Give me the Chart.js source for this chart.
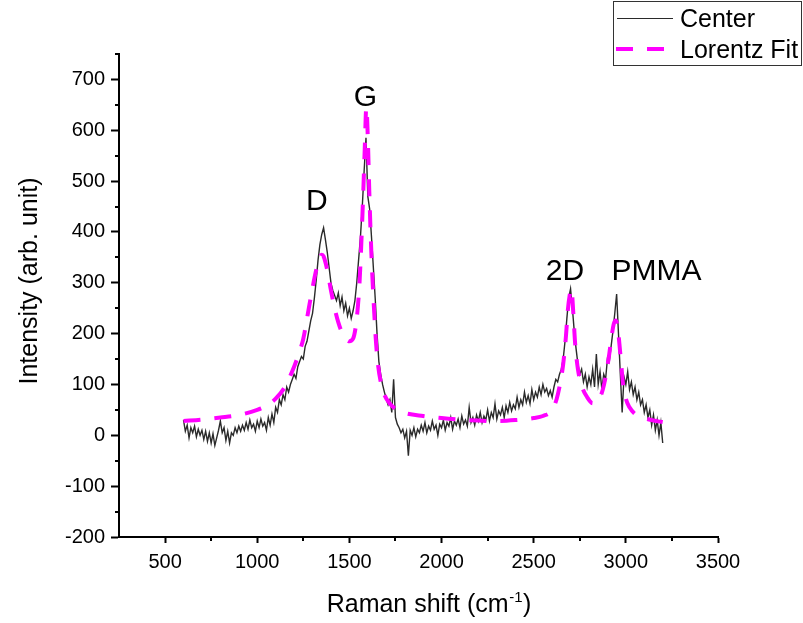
<!DOCTYPE html>
<html>
<head>
<meta charset="utf-8">
<script src="https://cdn.jsdelivr.net/npm/chart.js@4/dist/chart.umd.min.js"></script>
<style>
html,body{margin:0;padding:0;background:#ffffff;}
canvas{display:block;}
</style>
</head>
<body>
<canvas id="c" width="803" height="623"></canvas>
<script>
// ---------- DATA ----------
const ramanShift = [
600,610,620,630,640,650,660,670,680,690,
700,710,720,730,740,750,760,770,780,790,
800,810,820,830,840,850,860,870,880,890,
900,910,920,930,940,950,960,970,980,990,
1000,1010,1020,1030,1040,1050,1060,1070,1080,1090,
1100,1110,1120,1130,1140,1150,1160,1170,1180,1190,
1200,1210,1220,1230,1240,1250,1260,1270,1280,1290,
1300,1310,1320,1330,1340,1350,1360,1370,1380,1390,
1400,1410,1420,1430,1440,1450,1460,1470,1480,1490,
1500,1510,1520,1530,1540,1550,1560,1570,1580,1590,
1600,1610,1620,1630,1640,1650,1660,1670,1680,1690,
1700,1710,1720,1730,1740,1750,1760,1770,1780,1790,
1800,1810,1820,1830,1840,1850,1860,1870,1880,1890,
1900,1910,1920,1930,1940,1950,1960,1970,1980,1990,
2000,2010,2020,2030,2040,2050,2060,2070,2080,2090,
2100,2110,2120,2130,2140,2150,2160,2170,2180,2190,
2200,2210,2220,2230,2240,2250,2260,2270,2280,2290,
2300,2310,2320,2330,2340,2350,2360,2370,2380,2390,
2400,2410,2420,2430,2440,2450,2460,2470,2480,2490,
2500,2510,2520,2530,2540,2550,2560,2570,2580,2590,
2600,2610,2620,2630,2640,2650,2660,2670,2680,2690,
2700,2710,2720,2730,2740,2750,2760,2770,2780,2790,
2800,2810,2820,2830,2840,2850,2860,2870,2880,2890,
2900,2910,2920,2930,2940,2950,2960,2970,2980,2990,
3000,3010,3020,3030,3040,3050,3060,3070,3080,3090,
3100,3110,3120,3130,3140,3150,3160,3170,3180,3190,
3200];

const centerIntensity = [
30,8,20,-5,15,5,18,-3,12,0,
10,-8,8,-12,5,-15,3,-20,-5,10,
28,5,15,-10,8,-15,5,0,15,5,
18,8,20,10,25,12,30,15,22,8,
28,15,32,18,25,10,35,20,42,25,
55,45,70,60,80,70,95,85,100,110,
120,112,135,145,155,150,175,185,205,225,
240,270,305,345,375,395,408,385,360,330,
300,285,275,265,280,255,272,245,260,235,
250,230,245,265,300,345,390,450,520,585,
470,445,390,330,270,200,145,120,100,85,
72,60,70,45,110,35,22,15,5,12,
-5,8,-40,10,0,15,-3,12,5,20,
8,25,5,18,10,28,12,20,0,22,
15,30,10,25,18,35,12,28,20,32,
15,38,22,30,18,55,25,35,20,40,
28,45,25,38,30,50,28,45,35,62,
32,48,40,55,35,58,45,65,48,60,
52,75,55,70,60,85,65,78,62,90,
70,85,75,95,80,100,85,92,78,88,
75,95,110,105,120,130,150,185,230,270,
288,250,205,170,140,120,130,105,120,95,
115,100,130,95,160,100,125,90,120,110,
150,145,175,205,240,278,200,120,45,115,
100,125,90,105,80,95,70,85,60,70,
45,60,35,50,20,40,10,30,0,25,
-15];

const fitShift = [
600,700,800,900,1000,1050,1100,1150,1200,1225,
1250,1275,1300,1320,1340,1350,1360,1380,1400,1420,
1440,1460,1480,1500,1520,1540,1555,1565,1575,1583,
1592,1600,1608,1616,1625,1635,1645,1655,1670,1690,
1720,1760,1800,1900,2000,2100,2200,2300,2400,2500,
2550,2600,2625,2645,2660,2675,2685,2695,2705,2715,
2725,2740,2760,2790,2820,2850,2875,2895,2910,2925,
2935,2945,2955,2965,2975,2985,3000,3020,3050,3100,
3150,3200];

const fitIntensity = [
28,31,35,40,50,58,72,95,135,160,
190,240,290,325,350,355,352,325,285,250,
222,202,190,185,190,230,300,380,475,560,
645,585,480,390,310,240,180,140,105,80,
62,50,44,38,34,31,29,28,30,34,
38,50,72,105,140,195,245,275,288,240,
180,130,98,75,63,68,90,125,160,200,
220,226,215,180,140,100,72,55,42,34,
29,26];

const seriesNames = ['Center', 'Lorentz Fit'];
const xTickValues = [500,1000,1500,2000,2500,3000,3500];
const yTickValues = [-200,-100,0,100,200,300,400,500,600,700];
const xMinorTicks = [750,1250,1750,2250,2750,3250];
const yMinorTicks = [-150,-50,50,150,250,350,450,550,650,750];
const peakNames = ['D','G','2D','PMMA'];
const peakLabelShift = [1324,1587,2670,3166];
const peakLabelIntensity = [443,648,306,306];
const xTitle = ['Raman shift (cm', '-1', ')'];
const yTitle = 'Intensity (arb. unit)';

// ---------- STYLE ----------
const FONT = '"Liberation Sans", Arial, Helvetica, sans-serif';
const CENTER_COLOR = '#2a2a2a';
const FIT_COLOR = '#ff00ff';
const FIT_DASH = [17, 14];

const extras = {
  id: 'extras',
  afterDraw(chart) {
    const ctx = chart.ctx;
    const xs = chart.scales.x, ys = chart.scales.y;
    const area = chart.chartArea;
    ctx.save();
    // minor ticks
    ctx.strokeStyle = '#000';
    ctx.lineWidth = 2;
    ctx.beginPath();
    xMinorTicks.forEach(v => {
      const px = Math.round(xs.getPixelForValue(v));
      ctx.moveTo(px, area.bottom);
      ctx.lineTo(px, area.bottom + 4);
    });
    yMinorTicks.forEach(v => {
      const py = Math.round(ys.getPixelForValue(v));
      ctx.moveTo(area.left, py);
      ctx.lineTo(area.left - 4, py);
    });
    ctx.stroke();

    // peak labels
    ctx.fillStyle = '#000';
    ctx.font = '30px ' + FONT;
    ctx.textAlign = 'center';
    ctx.textBaseline = 'alphabetic';
    peakNames.forEach((n, i) => {
      ctx.fillText(n, xs.getPixelForValue(peakLabelShift[i]), ys.getPixelForValue(peakLabelIntensity[i]));
    });

    // x title with superscript
    ctx.textAlign = 'left';
    ctx.font = '25px ' + FONT;
    const w1 = ctx.measureText(xTitle[0]).width;
    const w3 = ctx.measureText(xTitle[2]).width;
    ctx.font = '15px ' + FONT;
    const w2 = ctx.measureText(xTitle[1]).width;
    const total = w1 + w2 + w3 + 1;
    let sx = 429 - total / 2;
    const by = 612;
    ctx.font = '25px ' + FONT;
    ctx.fillText(xTitle[0], sx, by);
    ctx.font = '15px ' + FONT;
    ctx.fillText(xTitle[1], sx + w1 + 0.5, by - 10);
    ctx.font = '25px ' + FONT;
    ctx.fillText(xTitle[2], sx + w1 + w2 + 1, by);

    // y title
    ctx.save();
    ctx.translate(37, 281);
    ctx.rotate(-Math.PI / 2);
    ctx.textAlign = 'center';
    ctx.font = '25px ' + FONT;
    ctx.fillText(yTitle, 0, 0);
    ctx.restore();

    // legend
    ctx.fillStyle = '#ffffff';
    ctx.fillRect(613.5, 1.5, 188, 64);
    ctx.strokeStyle = '#333';
    ctx.lineWidth = 1;
    ctx.strokeRect(613.5, 1.5, 188, 64);
    ctx.strokeStyle = CENTER_COLOR;
    ctx.lineWidth = 1;
    ctx.beginPath();
    ctx.moveTo(617, 18.5); ctx.lineTo(673, 18.5);
    ctx.stroke();
    ctx.strokeStyle = FIT_COLOR;
    ctx.lineWidth = 4;
    ctx.setLineDash(FIT_DASH);
    ctx.lineDashOffset = 0;
    ctx.beginPath();
    ctx.moveTo(616, 49); ctx.lineTo(667, 49);
    ctx.stroke();
    ctx.setLineDash([]);
    ctx.fillStyle = '#000';
    ctx.font = '25px ' + FONT;
    ctx.textAlign = 'left';
    ctx.fillText(seriesNames[0], 680, 27);
    ctx.fillText(seriesNames[1], 680, 58);
    ctx.restore();
  }
};

new Chart(document.getElementById('c').getContext('2d'), {
  type: 'line',
  data: {
    datasets: [
      {
        label: seriesNames[0],
        data: ramanShift.map((x, i) => ({x: x, y: centerIntensity[i]})),
        borderColor: CENTER_COLOR,
        borderWidth: 1.4,
        pointRadius: 0,
        tension: 0,
        fill: false,
        order: 2
      },
      {
        label: seriesNames[1],
        data: fitShift.map((x, i) => ({x: x, y: fitIntensity[i]})),
        borderColor: FIT_COLOR,
        borderWidth: 4,
        borderDash: FIT_DASH,
        pointRadius: 0,
        cubicInterpolationMode: 'monotone',
        fill: false,
        order: 1
      }
    ]
  },
  options: {
    responsive: false,
    devicePixelRatio: 1,
    animation: false,
    layout: {padding: {top: 54, right: 85, left: 0, bottom: 0}},
    plugins: {legend: {display: false}, tooltip: {enabled: false}, title: {display: false}},
    scales: {
      x: {
        type: 'linear',
        min: 250,
        max: 3500,
        afterBuildTicks: s => { s.ticks = xTickValues.map(v => ({value: v})); },
        afterFit: s => { s.height = 86; },
        grid: {drawOnChartArea: false, drawTicks: true, tickLength: 6, tickColor: '#000', tickWidth: 2},
        border: {display: true, color: '#000', width: 2},
        ticks: {color: '#000', font: {family: FONT, size: 20}, padding: 7, maxRotation: 0, autoSkip: false,
                callback: v => String(v)}
      },
      y: {
        type: 'linear',
        min: -200,
        max: 750,
        afterBuildTicks: s => { s.ticks = yTickValues.map(v => ({value: v})); },
        afterFit: s => { s.width = 119; },
        grid: {drawOnChartArea: false, drawTicks: true, tickLength: 8, tickColor: '#000', tickWidth: 2},
        border: {display: true, color: '#000', width: 2},
        ticks: {color: '#000', font: {family: FONT, size: 20}, padding: 6, autoSkip: false,
                callback: v => String(v)}
      }
    }
  },
  plugins: [extras]
});
</script>
</body>
</html>
